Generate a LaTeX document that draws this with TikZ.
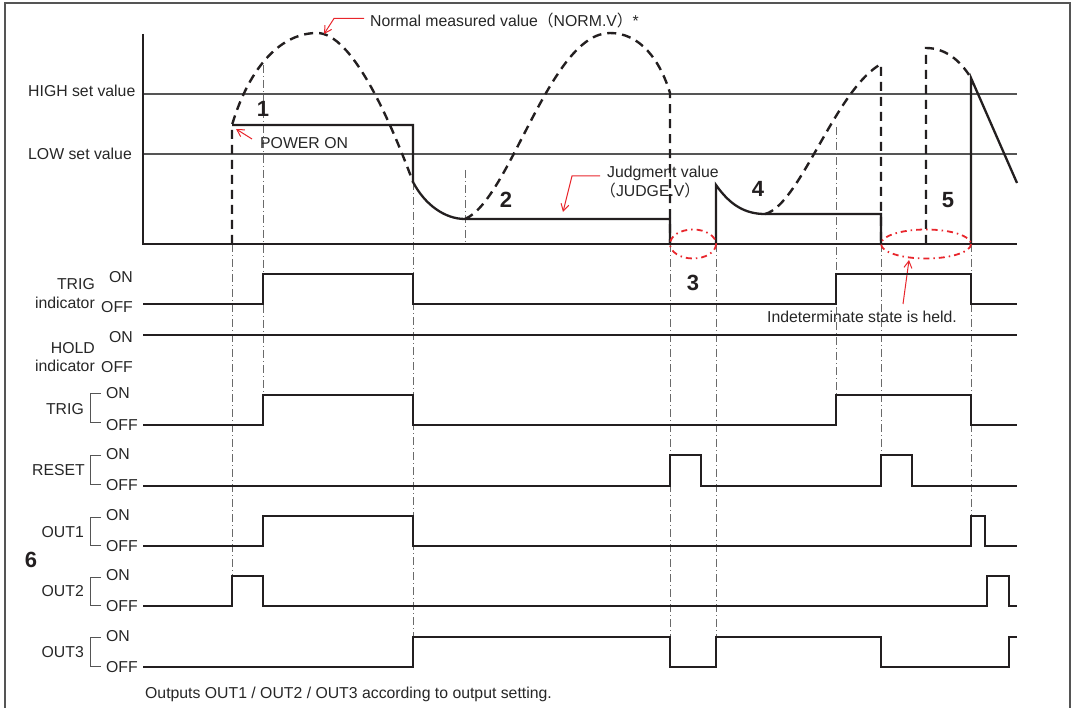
\documentclass[tikz,border=0pt]{standalone}
\usepackage{fontspec}
\setmainfont{Liberation Sans}
\newfontfamily\cjk{Noto Sans CJK SC}
\usetikzlibrary{arrows.meta}
\definecolor{ink}{HTML}{231F20}
\definecolor{txt}{HTML}{262626}
\definecolor{lvl}{HTML}{555555}
\definecolor{guidec}{HTML}{6A6A6A}
\definecolor{redc}{HTML}{E8262C}
\begin{document}
\begin{tikzpicture}[x=1pt,y=-1pt,
  font=\fontsize{15.8}{19}\selectfont, text=txt,
  frame/.style={draw=lvl, line width=1.6pt},
  axis/.style={draw=ink, line width=2.6pt},
  level/.style={draw=lvl, line width=1.1pt},
  sig/.style={draw=ink, line width=2.3pt, line join=miter},
  meas/.style={draw=ink, line width=2.4pt, dash pattern=on 9pt off 6pt},
  guide/.style={draw=guidec, line width=0.8pt, dash pattern=on 8pt off 3pt on 1pt off 3pt},
  redell/.style={draw=redc, line width=1.8pt, dash pattern=on 6pt off 4pt on 1.5pt off 4pt},
  redarrow/.style={draw=redc, line width=1pt, -{Straight Barb[length=7pt,width=8pt]}},
  bracket/.style={draw=lvl, line width=1pt},
  lbl/.style={inner sep=0pt},
  num/.style={inner sep=0pt, font=\fontsize{22}{25}\selectfont\bfseries, text=ink}]
\useasboundingbox (0,0) rectangle (1073,708);
% frame
\draw[frame] (5,708) -- (5,3) -- (1070,3) -- (1070,708);

% ---------- upper chart ----------
\draw[level] (143,94) -- (1017,94);
\draw[level] (143,154) -- (1017,154);
\node[lbl, anchor=base west] (high) at (28,97) {HIGH set value};
\node[lbl, anchor=base west] (low) at (28,160) {LOW set value};

% guide lines (dash-dot)
\draw[guide] (232,244) -- (232,576);
\draw[guide] (263,65) -- (263,395);
\draw[guide] (413,182) -- (413,637);
\draw[guide] (465,170) -- (465,244);
\draw[guide] (670,244) -- (670,637);
\draw[guide] (716,244) -- (716,637);
\draw[guide] (836,127) -- (836,395);
\draw[guide] (881,244) -- (881,455);
\draw[guide] (971,244) -- (971,516);

% texts in upper chart
\node[lbl, anchor=base west] (normtxt) at (370,27) {Normal measured value{\cjk （}NORM.V{\cjk ）}*};
\node[lbl, anchor=base west] (powtxt) at (260,149) {POWER ON};
\node[lbl, anchor=base west] (judgetxt) at (607,178) {Judgment value};
\node[lbl, anchor=base west] (judgetxt2) at (600,197) {{\cjk （}JUDGE.V{\cjk ）}};
\node[lbl, anchor=base west] (indtxt) at (767,323) {Indeterminate state is held.};

% measured value (dashed)
\draw[meas] (232,244) -- (232,125) .. controls (250,65) and (282,33) .. (317,33)
  .. controls (352,33) and (390,120) .. (413,182);
\draw[meas] (465,219) .. controls (510,200) and (550,33) .. (610,33)
  .. controls (640,33) and (660,60) .. (670,93) -- (670,244);
\draw[meas] (765,214) .. controls (800,205) and (835,90) .. (881,64) -- (881,244);
\draw[meas] (926,244) -- (926,48) .. controls (945,48) and (960,60) .. (971,78);

% judgment value (solid)
\draw[sig] (232,125) -- (413,125) -- (413,182) .. controls (425,205) and (445,219) .. (465,219)
  -- (670,219) -- (670,244);
\draw[sig] (716,244) -- (716,185) .. controls (730,205) and (745,214) .. (765,214)
  -- (881,214) -- (881,244);
\draw[sig] (971,244) -- (971,78) -- (1017,183);

% axes
\draw[axis] (143,34) -- (143,244) -- (1017,244);

% red ellipses
\draw[redell] (693,244) ellipse [x radius=23, y radius=14.5];
\draw[redell] (926,244) ellipse [x radius=45, y radius=14.5];

% red arrows
\coordinate (normtail) at (364,18.5);
\coordinate (normbend) at (334,18.5);
\coordinate (normtip) at (324,34);
\draw[redarrow] (normtail) -- (normbend) -- (normtip);
\coordinate (powtail) at (252,139);
\coordinate (powtip) at (236,129);
\draw[redarrow] (powtail) -- (powtip);
\coordinate (judtail) at (600,176);
\coordinate (judbend) at (572,176);
\coordinate (judtip) at (563,212);
\draw[redarrow] (judtail) -- (judbend) -- (judtip);
\coordinate (indtail) at (903,304);
\coordinate (indtip) at (909,260);
\draw[redarrow] (indtail) -- (indtip);

% numbers
\node[num, anchor=base] (n1) at (263,117) {1};
\node[num, anchor=base] (n2) at (506,208) {2};
\node[num, anchor=base] (n3) at (693,291) {3};
\node[num, anchor=base] (n4) at (758,197) {4};
\node[num, anchor=base] (n5) at (948,208) {5};
\node[num, anchor=base] (n6) at (31,567) {6};

% ---------- TRIG indicator ----------
\node[lbl, anchor=base east] (trigi1) at (95,290) {TRIG};
\node[lbl, anchor=base east] (trigi2) at (95,309) {indicator};
\node[lbl, anchor=base east] (trigion) at (133,283) {ON};
\node[lbl, anchor=base east] (trigioff) at (133,313) {OFF};
\draw[sig] (143,304) -- (263,304) -- (263,274) -- (413,274) -- (413,304) -- (836,304)
  -- (836,274) -- (971,274) -- (971,304) -- (1017,304);

% ---------- HOLD indicator ----------
\node[lbl, anchor=base east] (holdi1) at (95,353) {HOLD};
\node[lbl, anchor=base east] (holdi2) at (95,371) {indicator};
\node[lbl, anchor=base east] (holdon) at (133,343) {ON};
\node[lbl, anchor=base east] (holdoff) at (133,373) {OFF};
\draw[sig] (143,335) -- (1017,335);

% ---------- bracket rows ----------
% TRIG
\node[lbl, anchor=base east] (trig) at (84,414) {TRIG};
\draw[bracket] (101,393) -- (90,393) -- (90,422) -- (101,422);
\node[lbl, anchor=base west] (trigon) at (106,398) {ON};
\node[lbl, anchor=base west] (trigoff) at (106,430) {OFF};
\draw[sig] (143,425) -- (263,425) -- (263,395) -- (413,395) -- (413,425) -- (836,425)
  -- (836,395) -- (971,395) -- (971,425) -- (1017,425);
% RESET
\node[lbl, anchor=base east] (reset) at (85,475) {RESET};
\draw[bracket] (101,455) -- (90,455) -- (90,484) -- (101,484);
\node[lbl, anchor=base west] (reseton) at (106,459) {ON};
\node[lbl, anchor=base west] (resetoff) at (106,490) {OFF};
\draw[sig] (143,486) -- (670,486) -- (670,455) -- (701,455) -- (701,486) -- (881,486)
  -- (881,455) -- (912,455) -- (912,486) -- (1017,486);
% OUT1
\node[lbl, anchor=base east] (out1) at (84,537) {OUT1};
\draw[bracket] (101,517) -- (90,517) -- (90,545) -- (101,545);
\node[lbl, anchor=base west] (out1on) at (106,520) {ON};
\node[lbl, anchor=base west] (out1off) at (106,551) {OFF};
\draw[sig] (143,546) -- (263,546) -- (263,516) -- (413,516) -- (413,546) -- (971,546)
  -- (971,516) -- (985,516) -- (985,546) -- (1017,546);
% OUT2
\node[lbl, anchor=base east] (out2) at (84,596) {OUT2};
\draw[bracket] (101,577) -- (90,577) -- (90,605) -- (101,605);
\node[lbl, anchor=base west] (out2on) at (106,580) {ON};
\node[lbl, anchor=base west] (out2off) at (106,611) {OFF};
\draw[sig] (143,606) -- (232,606) -- (232,576) -- (263,576) -- (263,606) -- (987,606)
  -- (987,576) -- (1009,576) -- (1009,606) -- (1017,606);
% OUT3
\node[lbl, anchor=base east] (out3) at (84,657) {OUT3};
\draw[bracket] (101,637) -- (90,637) -- (90,666) -- (101,666);
\node[lbl, anchor=base west] (out3on) at (106,641) {ON};
\node[lbl, anchor=base west] (out3off) at (106,672) {OFF};
\draw[sig] (143,667) -- (413,667) -- (413,637) -- (670,637) -- (670,667) -- (716,667)
  -- (716,637) -- (881,637) -- (881,667) -- (1009,667) -- (1009,637) -- (1017,637);

% footnote
\node[lbl, anchor=base west] (foot) at (145,698) {Outputs OUT1 / OUT2 / OUT3 according to output setting.};
\end{tikzpicture}
\end{document}
